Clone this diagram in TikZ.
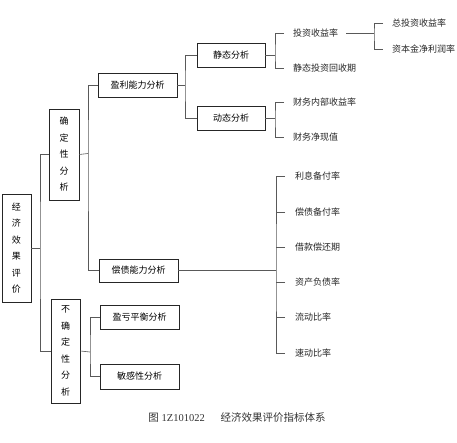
\documentclass[tikz,border=0pt]{standalone}
\usepackage{fontspec}
\setmainfont{Liberation Serif}
\newfontfamily\cjk{Noto Sans CJK SC}
\begin{document}
\begin{tikzpicture}[x=1pt,y=-1pt,
  box/.style={draw=black!85,line width=0.8pt,inner sep=0pt,font=\cjk\fontsize{9}{16.5}\selectfont,align=center},
  hbox/.style={box,minimum width=79pt,minimum height=24pt},
  lbl/.style={inner sep=0pt,anchor=west,font=\cjk\fontsize{9}{11}\selectfont,text=black!85},
  conn/.style={draw=black!65,line width=0.6pt}]
\useasboundingbox (0,0) rectangle (457,443);
% boxes
\node[box,minimum width=29pt,minimum height=108pt] (root) at (16.5,248) {经\\济\\效\\果\\评\\价};
\node[box,minimum width=30pt,minimum height=91pt] (que) at (64,154.5) {确\\定\\性\\分\\析};
\node[box,minimum width=29pt,minimum height=104pt] (buque) at (65.5,351) {不\\确\\定\\性\\分\\析};
\node[hbox] (yingli) at (137.5,85) {盈利能力分析};
\node[hbox,minimum height=23pt] (changzhai) at (138.5,270.5) {偿债能力分析};
\node[hbox] (yingkui) at (139.5,317) {盈亏平衡分析};
\node[hbox,minimum height=25pt] (mingan) at (139.5,376.5) {敏感性分析};
\node[box,minimum width=68pt,minimum height=24pt] (jingtai) at (231,55) {静态分析};
\node[box,minimum width=68pt,minimum height=24pt] (dongtai) at (231,118) {动态分析};
% labels
\node[lbl] (t1) at (293,33) {投资收益率};
\node[lbl] (t2) at (293,68) {静态投资回收期};
\node[lbl] (t3) at (293,102) {财务内部收益率};
\node[lbl] (t4) at (293,137) {财务净现值};
\node[lbl] (t5) at (392,23) {总投资收益率};
\node[lbl] (t6) at (392,49) {资本金净利润率};
\node[lbl] (r1) at (295,176) {利息备付率};
\node[lbl] (r2) at (295,212) {偿债备付率};
\node[lbl] (r3) at (295,247) {借款偿还期};
\node[lbl] (r4) at (295,282) {资产负债率};
\node[lbl] (r5) at (295,317) {流动比率};
\node[lbl] (r6) at (295,353) {速动比率};
% connectors
\draw[conn] (root.east |- 0,248) -- (40,248);
\draw[conn] (que.west) -| (40,248) |- (buque.west);
\draw[conn] (que.east) -- (88,153.5);
\draw[conn] (yingli.west) -| (88,153.5) |- (changzhai.west);
\draw[conn] (yingli.east) -- (185,85);
\draw[conn] (jingtai.west) -| (185,85) |- (dongtai.west);
\draw[conn] (jingtai.east) -- (275,55);
\draw[conn] ([xshift=-9pt]t1.west) -| (275,55) |- ([xshift=-9pt]t2.west);
\draw[conn] (dongtai.east) -- (275,118);
\draw[conn] ([xshift=-9pt]t3.west) -| (275,118) |- ([xshift=-9pt]t4.west);
\draw[conn] ([xshift=8pt]t1.east) -- (374,33);
\draw[conn] ([xshift=-9pt]t5.west) -| (374,33) |- ([xshift=-9pt]t6.west);
\draw[conn] (changzhai.east) -- (276,270.5);
\draw[conn] ([xshift=-10pt]r1.west) -| (276,270.5) |- ([xshift=-10pt]r6.west);
\foreach \r in {r2,r3,r4,r5} \draw[conn] ([xshift=-10pt]\r.west) -- ([xshift=-19pt]\r.west);
\draw[conn] (buque.east) -- (90,352);
\draw[conn] (yingkui.west) -| (90,352) |- (mingan.west);
% caption
\node[inner sep=0pt,font=\fontsize{10.5}{12}\selectfont,text=black!80] (cap) at (237,418) {{\cjk 图} 1Z101022\hspace{1.5em}{\cjk 经济效果评价指标体系}};
\end{tikzpicture}
\end{document}
